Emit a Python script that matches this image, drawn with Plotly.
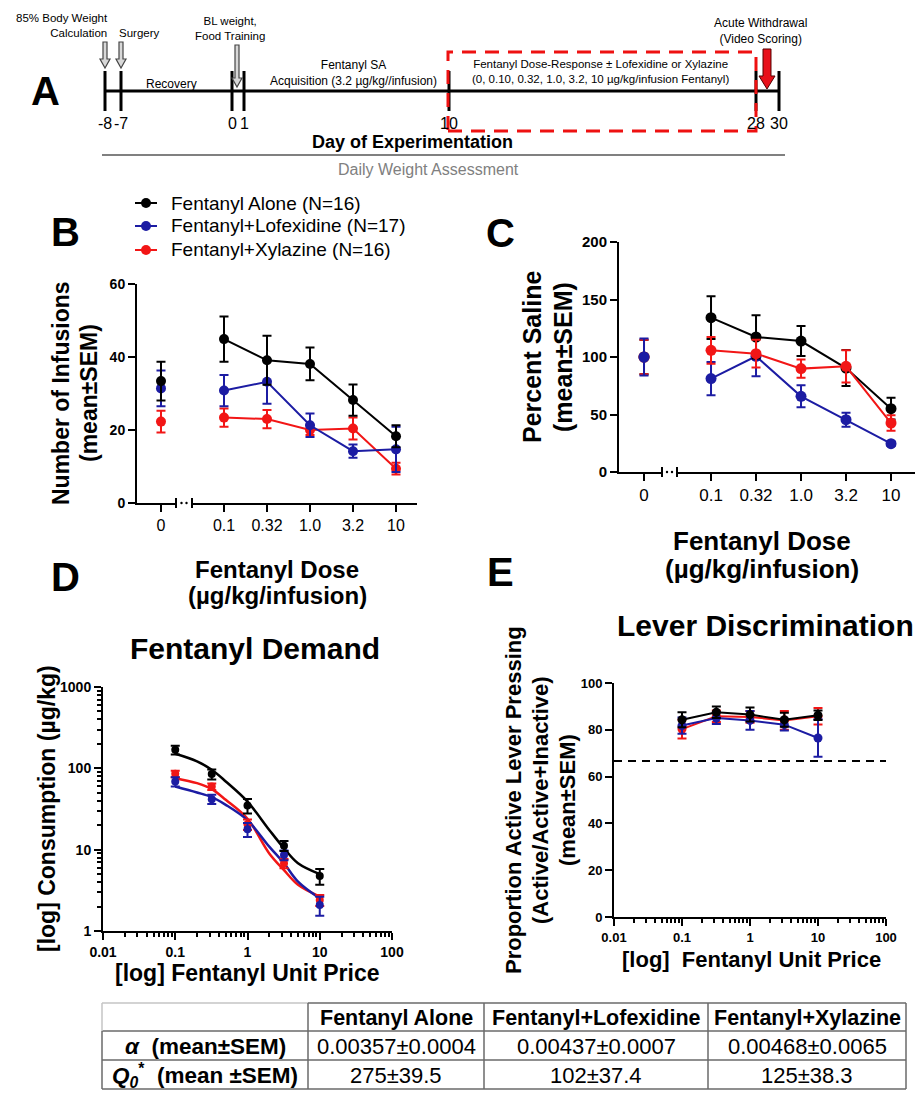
import plotly.graph_objects as go

W, H = 921, 1093
def fx(p): return p / W
def fy(p): return 1 - p / H

FONT = "Liberation Sans, Arial, sans-serif"
BLACK, BLUE, RED = "#000000", "#1c1ca3", "#f21616"

# ---------------- DATA ----------------
series_names = ["Fentanyl Alone (N=16)", "Fentanyl+Lofexidine (N=17)", "Fentanyl+Xylazine (N=16)"]
saline_label = ["0"]
dose_labels = ["0.1", "0.32", "1.0", "3.2", "10"]

# Panel B: number of infusions (first value = saline / dose 0)
inf_alone = [33.4, 44.9, 39.1, 38.1, 28.2, 18.3]
inf_alone_sem = [5.3, 6.2, 6.7, 4.5, 4.3, 3.0]
inf_lofex = [31.4, 30.8, 33.2, 21.3, 14.2, 14.7]
inf_lofex_sem = [4.9, 4.3, 6.0, 3.2, 1.8, 6.2]
inf_xyl = [22.3, 23.4, 23.0, 20.0, 20.4, 9.4]
inf_xyl_sem = [3.0, 2.5, 2.5, 1.4, 3.0, 1.6]

# Panel C: percent saline
pct_alone = [100, 134.2, 117.4, 113.9, 90.4, 55.1]
pct_alone_sem = [15, 18.6, 18.8, 13.0, 15.6, 9.5]
pct_lofex = [100, 81.2, 100.6, 65.8, 45.5, 24.6]
pct_lofex_sem = [16, 14.5, 17.4, 9.6, 6.1, 2.0]
pct_xyl = [100, 105.8, 102.9, 89.9, 91.9, 42.6]
pct_xyl_sem = [15, 11.6, 12.0, 8.0, 14.0, 6.7]

# Panel D: demand
unit_price = [0.1, 0.32, 1, 3.2, 10]
cons_alone = [169, 85, 34.9, 11.2, 4.75]
cons_alone_sem = [21, 12, 7, 1.6, 1.05]
cons_lofex = [68.9, 41.8, 17.8, 8.6, 2.09]
cons_lofex_sem = [9, 5.4, 3.5, 1.2, 0.55]
cons_xyl = [85.7, 59.8, 20.5, 6.8, 2.4]
cons_xyl_sem = [8, 5.5, 3, 0.9, 0.37]

curve_price = [0.1, 0.2, 0.32, 0.5, 1, 2, 3.2, 5, 10]
curve_alone = [151, 122, 96, 69, 39, 17.5, 10.4, 6.8, 5.0]
curve_lofex = [59.8, 50.5, 44.2, 35.6, 23.0, 10.9, 6.8, 4.05, 2.52]
curve_xyl = [75.7, 65.7, 55.5, 41.0, 24.0, 9.0, 5.6, 3.7, 2.65]

# Panel E: lever discrimination
lever_alone = [84.3, 87.5, 86.5, 84.3, 86.2]
lever_alone_sem = [3.2, 2.5, 3.0, 3.0, 2.0]
lever_lofex = [81.8, 85.0, 84.0, 82.2, 76.5]
lever_lofex_sem = [3.5, 2.5, 4.0, 2.5, 8.0]
lever_xyl = [80.3, 85.8, 85.5, 84.0, 85.8]
lever_xyl_sem = [4.0, 2.5, 2.5, 4.0, 3.5]
chance_level = 66.7

# Panel A timeline
day_labels = ["-8", "-7", "0", "1", "10", "28", "30"]

# Table
table_groups = ["Fentanyl Alone", "Fentanyl+Lofexidine", "Fentanyl+Xylazine"]
table_rows = ["<b><i>α</i>  (mean±SEM)</b>", "<b><i>Q</i><sub><i>0</i></sub><sup>*</sup>  (mean ±SEM)</b>"]
alpha_vals = ["0.00357±0.0004", "0.00437±0.0007", "0.00468±0.0065"]
q0_vals = ["275±39.5", "102±37.4", "125±38.3"]

# ---------------- FIGURE ----------------
fig = go.Figure()

def err(arr, color):
    return dict(type="data", array=arr, color=color, thickness=2, width=4.5, visible=True)

# Panel B (order: red, blue, black)
for vals, sem, col in [(inf_xyl, inf_xyl_sem, RED), (inf_lofex, inf_lofex_sem, BLUE), (inf_alone, inf_alone_sem, BLACK)]:
    fig.add_trace(go.Scatter(x=saline_label, y=vals[:1], error_y=err(sem[:1], col), mode="markers",
                             marker=dict(color=col, size=10), xaxis="x", yaxis="y", showlegend=False))
    fig.add_trace(go.Scatter(x=dose_labels, y=vals[1:], error_y=err(sem[1:], col), mode="lines+markers",
                             line=dict(color=col, width=2), marker=dict(color=col, size=10),
                             xaxis="x2", yaxis="y", showlegend=False))

# Panel C
for vals, sem, col in [(pct_alone, pct_alone_sem, BLACK), (pct_xyl, pct_xyl_sem, RED), (pct_lofex, pct_lofex_sem, BLUE)]:
    fig.add_trace(go.Scatter(x=saline_label, y=vals[:1], error_y=err(sem[:1], col), mode="markers",
                             marker=dict(color=col, size=11), xaxis="x3", yaxis="y2", showlegend=False))
for vals, sem, col in [(pct_lofex, pct_lofex_sem, BLUE), (pct_alone, pct_alone_sem, BLACK), (pct_xyl, pct_xyl_sem, RED)]:
    fig.add_trace(go.Scatter(x=dose_labels, y=vals[1:], error_y=err(sem[1:], col), mode="lines+markers",
                             line=dict(color=col, width=2), marker=dict(color=col, size=11),
                             xaxis="x4", yaxis="y2", showlegend=False))

# Panel D
for cy, col in [(curve_alone, BLACK), (curve_xyl, RED), (curve_lofex, BLUE)]:
    fig.add_trace(go.Scatter(x=curve_price, y=cy, mode="lines", line=dict(color=col, width=2.5, shape="spline"),
                             xaxis="x5", yaxis="y3", showlegend=False))
for vals, sem, col in [(cons_xyl, cons_xyl_sem, RED), (cons_lofex, cons_lofex_sem, BLUE), (cons_alone, cons_alone_sem, BLACK)]:
    fig.add_trace(go.Scatter(x=unit_price, y=vals, error_y=err(sem, col), mode="markers",
                             marker=dict(color=col, size=8), xaxis="x5", yaxis="y3", showlegend=False))

# Panel E
for vals, sem, col in [(lever_xyl, lever_xyl_sem, RED), (lever_lofex, lever_lofex_sem, BLUE), (lever_alone, lever_alone_sem, BLACK)]:
    fig.add_trace(go.Scatter(x=unit_price, y=vals, error_y=err(sem, col), mode="lines+markers",
                             line=dict(color=col, width=2), marker=dict(color=col, size=9),
                             xaxis="x6", yaxis="y4", showlegend=False))

# ---------------- AXES ----------------
def axis(domain, **kw):
    d = dict(domain=domain, showline=True, linecolor="black", linewidth=2, ticks="outside",
             tickcolor="black", tickwidth=2, ticklen=7, showgrid=False, zeroline=False,
             fixedrange=True, automargin=False)
    d.update(kw)
    return d

reg16 = dict(family=FONT, size=16, color="black")
reg17 = dict(family=FONT, size=17, color="black")
bold14 = dict(family=FONT, size=14, color="black", weight="bold")
bold15 = dict(family=FONT, size=15, color="black", weight="bold")
bold13 = dict(family=FONT, size=13, color="black", weight="bold")

decade_minor = [k * 10 ** e for e in range(-2, 3) for k in range(2, 10)]
minor_log = dict(ticks="outside", ticklen=4, tickwidth=1.5, tickcolor="black", tickvals=decade_minor)

fig.update_layout(
    xaxis=axis([fx(137), fx(176)], type="category", range=[-0.558, 0.349], anchor="y", tickfont=reg16),
    xaxis2=axis([fx(192), fx(417)], type="category", range=[-0.744, 4.488], anchor="y", tickfont=reg16),
    yaxis=axis([fy(503), fy(284)], range=[0, 60], tickvals=[0, 20, 40, 60], anchor="x", tickfont=bold14),
    xaxis3=axis([fx(619), fx(662)], type="category", range=[-0.556, 0.4], anchor="y2", tickfont=reg17),
    xaxis4=axis([fx(677), fx(915)], type="category", range=[-0.756, 4.533], anchor="y2", tickfont=reg17),
    yaxis2=axis([fy(472), fy(242)], range=[0, 200], tickvals=[0, 50, 100, 150, 200], anchor="x3", tickfont=bold15),
    xaxis5=axis([fx(103), fx(392)], type="log", range=[-2, 2], anchor="y3",
                tickvals=[0.01, 0.1, 1, 10, 100], ticktext=["0.01", "0.1", "1", "10", "100"], tickfont=bold14,
                minor=minor_log),
    yaxis3=axis([fy(931), fy(687)], type="log", range=[0, 3], anchor="x5",
                tickvals=[1, 10, 100, 1000], ticktext=["1", "10", "100", "1000"], tickfont=bold14,
                minor=minor_log),
    xaxis6=axis([fx(614), fx(886)], type="log", range=[-2, 2], anchor="y4",
                tickvals=[0.01, 0.1, 1, 10, 100], ticktext=["0.01", "0.1", "1", "10", "100"], tickfont=bold13,
                minor=minor_log),
    yaxis4=axis([fy(917), fy(683)], range=[0, 100], tickvals=[0, 20, 40, 60, 80, 100], anchor="x6", tickfont=bold13),
)

# ---------------- SHAPES & ANNOTATIONS ----------------
shapes = []
anns = []

def pline(x0, y0, x1, y1, color="black", width=2, dash=None):
    ln = dict(color=color, width=width)
    if dash:
        ln["dash"] = dash
    shapes.append(dict(type="line", xref="paper", yref="paper", x0=fx(x0), y0=fy(y0), x1=fx(x1), y1=fy(y1), line=ln))

def text(t, x, y, size, bold=False, color="black", xanchor="center", yanchor="middle", angle=0, align="center"):
    if bold:
        t = "<b>%s</b>" % t
    anns.append(dict(text=t, x=fx(x), y=fy(y), xref="paper", yref="paper", showarrow=False,
                     xanchor=xanchor, yanchor=yanchor, textangle=angle, align=align,
                     font=dict(family=FONT, size=size, color=color)))

def down_arrow(xc, ytop, yhead, ytip, sw, hw, fill, edge, ew):
    pts = [(xc - sw / 2, ytop), (xc + sw / 2, ytop), (xc + sw / 2, yhead), (xc + hw / 2, yhead),
           (xc, ytip), (xc - hw / 2, yhead), (xc - sw / 2, yhead)]
    path = "M " + " L ".join("%.5f,%.5f" % (fx(a), fy(b)) for a, b in pts) + " Z"
    shapes.append(dict(type="path", xref="paper", yref="paper", path=path, fillcolor=fill,
                       line=dict(color=edge, width=ew)))

# Panel A
day_px = [105, 121, 232, 244, 449, 756, 779]
text("A", 45, 91, 40, bold=True)
pline(105, 91, 779, 91, width=3)
for lab, xp in zip(day_labels, day_px):
    pline(xp, 71, xp, 111, width=3)
    text(lab, xp, 124, 16)
shapes.append(dict(type="rect", xref="paper", yref="paper", x0=fx(448), x1=fx(756), y0=fy(131), y1=fy(52),
                   line=dict(color="#ee1111", width=3, dash="14px,9px")))
text("85% Body Weight<br>Calculation", 110, 26, 11.5, xanchor="right", align="right")
text("Surgery", 139, 33, 11.5)
text("BL weight,<br>Food Training", 230, 29, 11.5)
text("Recovery", 171, 84, 12)
text("Fentanyl SA<br>Acquisition (3.2 µg/kg//infusion)", 353, 73, 12)
text("Fentanyl Dose-Response ± Lofexidine or Xylazine<br>(0, 0.10, 0.32, 1.0, 3.2, 10 µg/kg/infusion Fentanyl)", 600, 71, 11.5)
text("Acute Withdrawal<br>(Video Scoring)", 760, 31, 12)
down_arrow(105, 42, 59, 68, 4, 10, "#d8d8d8", "#444444", 1.2)
down_arrow(121, 42, 59, 68, 4, 10, "#d8d8d8", "#444444", 1.2)
down_arrow(237, 45, 78, 87, 4, 10, "#d8d8d8", "#444444", 1.2)
down_arrow(767, 49, 76, 89, 8, 16, "#e8101a", "#550000", 1)
text("Day of Experimentation", 412, 142, 18, bold=True)
pline(102, 155, 785, 155, color="#808080", width=2)
text("Daily Weight Assessment", 428, 170, 16, color="#808080")

# Legend (panel B)
for name, col, yp in zip(series_names, [BLACK, BLUE, RED], [203, 226, 250]):
    pline(135, yp, 157, yp, color=col, width=2)
    shapes.append(dict(type="circle", xref="paper", yref="paper", x0=fx(141), x1=fx(151), y0=fy(yp + 5), y1=fy(yp - 5),
                       fillcolor=col, line=dict(color=col, width=0)))
    text(name, 169, yp, 19, xanchor="left")

# Panel B labels
text("B", 65, 232, 40, bold=True)
text("Number of Infusions", 61, 393, 23, bold=True, angle=-90)
text("(mean±SEM)", 89, 393, 23, bold=True, angle=-90)
text("Fentanyl Dose", 277, 569, 24, bold=True)
text("(µg/kg/infusion)", 277, 595, 24, bold=True)
for xp in (176, 192):
    pline(xp, 498, xp, 508, width=2)
for xp in (181.5, 186.5):
    shapes.append(dict(type="circle", xref="paper", yref="paper", x0=fx(xp - 1.2), x1=fx(xp + 1.2),
                       y0=fy(504.2), y1=fy(501.8), fillcolor="black", line=dict(width=0)))

# Panel C labels
text("C", 500, 233, 40, bold=True)
text("Percent Saline", 532, 357, 25, bold=True, angle=-90)
text("(mean±SEM)", 563, 357, 25, bold=True, angle=-90)
text("Fentanyl Dose", 762, 541, 26, bold=True)
text("(µg/kg/infusion)", 762, 569, 26, bold=True)
for xp in (662, 677):
    pline(xp, 467, xp, 477, width=2)
for xp in (667, 672):
    shapes.append(dict(type="circle", xref="paper", yref="paper", x0=fx(xp - 1.2), x1=fx(xp + 1.2),
                       y0=fy(473.2), y1=fy(470.8), fillcolor="black", line=dict(width=0)))

# Panel D labels
text("D", 65, 577, 40, bold=True)
text("Fentanyl Demand", 255, 648, 30, bold=True)
text("[log] Consumption (µg/kg)", 47, 809, 23, bold=True, angle=-90)
text("[log] Fentanyl Unit Price", 247, 973, 23, bold=True)

# Panel E labels
text("E", 500, 572, 40, bold=True)
text("Lever Discrimination", 765, 625, 30, bold=True)
text("Proportion Active Lever Pressing", 513, 800, 22, bold=True, angle=-90)
text("(Active/Active+Inactive)", 540, 800, 22, bold=True, angle=-90)
text("(mean±SEM)", 567, 800, 22, bold=True, angle=-90)
text("[log]  Fentanyl Unit Price", 751, 959, 22, bold=True)
shapes.append(dict(type="line", xref="x6 domain", yref="y4", x0=0, x1=1, y0=chance_level, y1=chance_level,
                   line=dict(color="black", width=2, dash="8px,6px")))

# Table (drawn with lines and text)
col_edges = [102, 308, 484, 708, 906]
row_edges = [1003, 1031, 1060, 1089]
TL = "#6a6a6a"
LIGHT = "#c4c4c4"
pline(col_edges[0], row_edges[0], col_edges[1], row_edges[0], color=LIGHT, width=1.5)
pline(col_edges[1], row_edges[0], col_edges[-1], row_edges[0], color=TL, width=1.5)
for ry in row_edges[1:]:
    pline(col_edges[0], ry, col_edges[-1], ry, color=TL, width=1.5)
pline(col_edges[0], row_edges[0], col_edges[0], row_edges[1], color=LIGHT, width=1.5)
pline(col_edges[0], row_edges[1], col_edges[0], row_edges[-1], color=TL, width=1.5)
for cx in col_edges[1:]:
    pline(cx, row_edges[0], cx, row_edges[-1], color=TL, width=1.5)
centers = [(col_edges[i] + col_edges[i + 1]) / 2 for i in range(4)]
rmid = [(row_edges[i] + row_edges[i + 1]) / 2 for i in range(3)]
for g, cx in zip(table_groups, centers[1:]):
    text(g, cx, rmid[0] + 1, 21.5, bold=True)
for lab, ry in zip(table_rows, rmid[1:]):
    text(lab, centers[0], ry + 1, 22.5)
for vals, ry in zip([alpha_vals, q0_vals], rmid[1:]):
    for v, cx in zip(vals, centers[1:]):
        text(v, cx, ry + 1, 22)

fig.update_layout(
    width=W, height=H, autosize=False,
    margin=dict(l=0, r=0, t=0, b=0),
    paper_bgcolor="white", plot_bgcolor="white",
    font=dict(family=FONT, color="black"),
    showlegend=False,
    shapes=shapes, annotations=anns,
)

fig.write_html("out.html", config={"displayModeBar": False},
               post_script="document.body.style.margin='0';document.body.style.overflow='hidden';")
